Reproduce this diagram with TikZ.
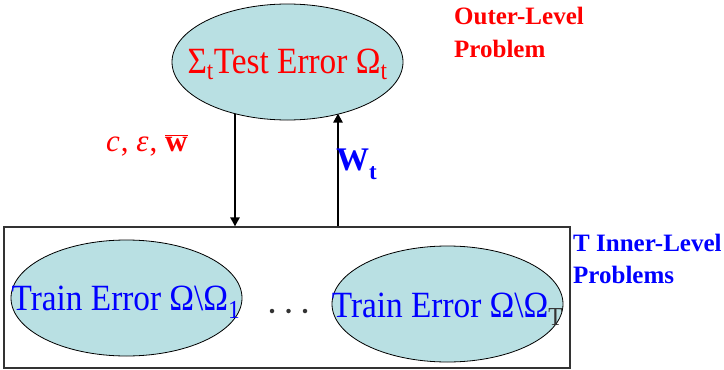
\documentclass[tikz,border=0pt]{standalone}
\usepackage{fontspec}
\setmainfont{Liberation Serif}
\usetikzlibrary{shapes.geometric,arrows.meta}
\definecolor{ellfill}{RGB}{185,224,227}
\begin{document}
\begin{tikzpicture}[x=1pt,y=-1pt,
  ell/.style={draw=black,line width=0.8pt,fill=ellfill,ellipse,minimum width=231pt,minimum height=116pt,inner sep=0pt},
  bigtxt/.style={inner sep=0pt,anchor=base,xscale=0.9,font=\fontsize{37}{42}\selectfont},
  side/.style={inner sep=0pt,anchor=base west,align=left,font=\fontsize{25}{33}\selectfont\bfseries},
  arr/.style={line width=2.6pt,-{Triangle[width=9pt,length=9pt]}},
  dot/.style={circle,fill=black!80,inner sep=0pt,minimum size=4.5pt}
]
\useasboundingbox (0,0) rectangle (724,370);
% outer box
\node[draw=black!80,line width=1.2pt,minimum width=566pt,minimum height=141pt,inner sep=0pt] (box) at (287,297.5) {};
% ellipses
\node[ell] (top) at (287.5,62) {};
\node[ell] (left) at (126.5,298) {};
\node[ell] (right) at (447.5,304) {};
% ellipse texts
\node[bigtxt,text=red] (toptxt) at (287.5,73) {Σ\textsubscript{t}Test Error Ω\textsubscript{t}};
\node[bigtxt,text=blue] (lefttxt) at (126,310) {Train Error Ω\textbackslash Ω\textsubscript{1}};
\node[bigtxt,text=blue] (righttxt) at (447.5,317) {Train Error Ω\textbackslash Ω\textsubscript{\color{black!80}T}};
% dots
\node[dot] (d1) at (272,311) {};
\node[dot] (d2) at (288.5,311) {};
\node[dot] (d3) at (305,311) {};
% arrows
\coordinate (dn) at (235,113.7);
\coordinate (up) at (338,113.5);
\draw[arr] (dn) -- (dn |- box.north);
\draw[arr] (up |- box.north) -- (up);
% arrow labels
\node[inner sep=0pt,anchor=base west,text=red,font=\fontsize{31}{34}\selectfont] (lbl1) at (106,151) {\textit{c}\kern1pt, \textit{ε}\kern1pt, $\overline{\mbox{\textbf{w}}}$};
\node[inner sep=0pt,anchor=base west,text=blue,font=\fontsize{33}{36}\selectfont\bfseries] (lbl2) at (336,170) {W\raisebox{-0.3em}{\fontsize{23}{24}\selectfont t}};
% side labels
\node[side,text=red] (outer) at (454,57) {Outer-Level\\Problem};
\node[side,text=blue,font=\fontsize{25}{32}\selectfont\bfseries] (inner) at (573,283) {T Inner-Level\\Problems};
\end{tikzpicture}
\end{document}
